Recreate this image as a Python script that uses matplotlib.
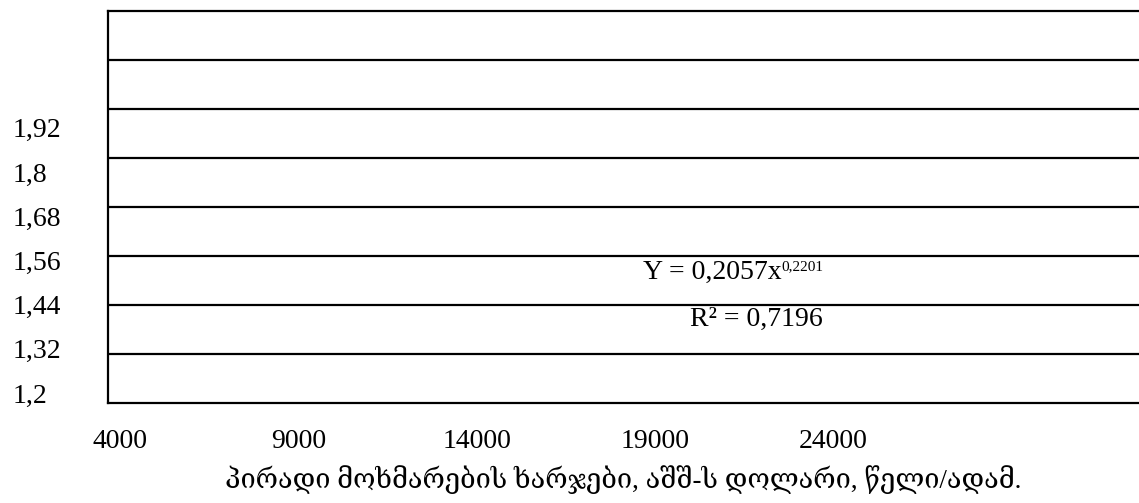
import numpy as np
import matplotlib.pyplot as plt

plt.rcParams['font.family'] = ['Liberation Serif', 'DejaVu Serif', 'DejaVu Sans']

# axis values
x_ticks = [4000, 9000, 14000, 19000, 24000]
y_ticks = [1.2, 1.32, 1.44, 1.56, 1.68, 1.8, 1.92]
y_labels = ['1,2', '1,32', '1,44', '1,56', '1,68', '1,8', '1,92']

# power trend y = a * x^b
coef_a = 0.2057
coef_b = 0.2201
r_squared = 0.7196

x_label = 'პირადი მოხმარების ხარჯები, აშშ-ს დოლარი, წელი/ადამ.'


def fmt(v):
    return f'{v:.4f}'.replace('.', ',')


fig = plt.figure(figsize=(11.39, 5.03), dpi=100)
ax = fig.add_axes([108 / 1139, 100 / 503, 1 - 108 / 1139, 392 / 503])

ax.set_xlim(3662, 32560)
ax.set_ylim(1.1729, 2.237)

ax.set_xticks(x_ticks)
ax.set_xticklabels([str(v) for v in x_ticks], fontsize=20)
ax.set_yticks(y_ticks)
ax.set_yticklabels(y_labels, fontsize=20)
for lbl in ax.get_yticklabels():
    lbl.set_horizontalalignment('left')
ax.tick_params(axis='y', length=0, pad=69)
ax.tick_params(axis='x', length=0, pad=19)

# horizontal rules, eight even bands
lo, hi = ax.get_ylim()
for yv in np.linspace(lo, hi, 9)[1:-1]:
    ax.axhline(yv, color='black', lw=1.6)

for side in ['left', 'bottom', 'top']:
    ax.spines[side].set_linewidth(1.6)
ax.spines['right'].set_visible(False)

eq = ax.text(18650, 1.5285, f'Y = {fmt(coef_a)}x', fontsize=20, ha='left', va='center')
ax.annotate(fmt(coef_b), xy=(1, 0.97), xycoords=eq, fontsize=11, ha='left', va='top')
ax.text(21842, 1.401, f'R² = {fmt(r_squared)}', fontsize=20, ha='center', va='center')

ax.set_xlabel(x_label, fontsize=19.5, labelpad=8)

fig.savefig('out.png', dpi=100)
